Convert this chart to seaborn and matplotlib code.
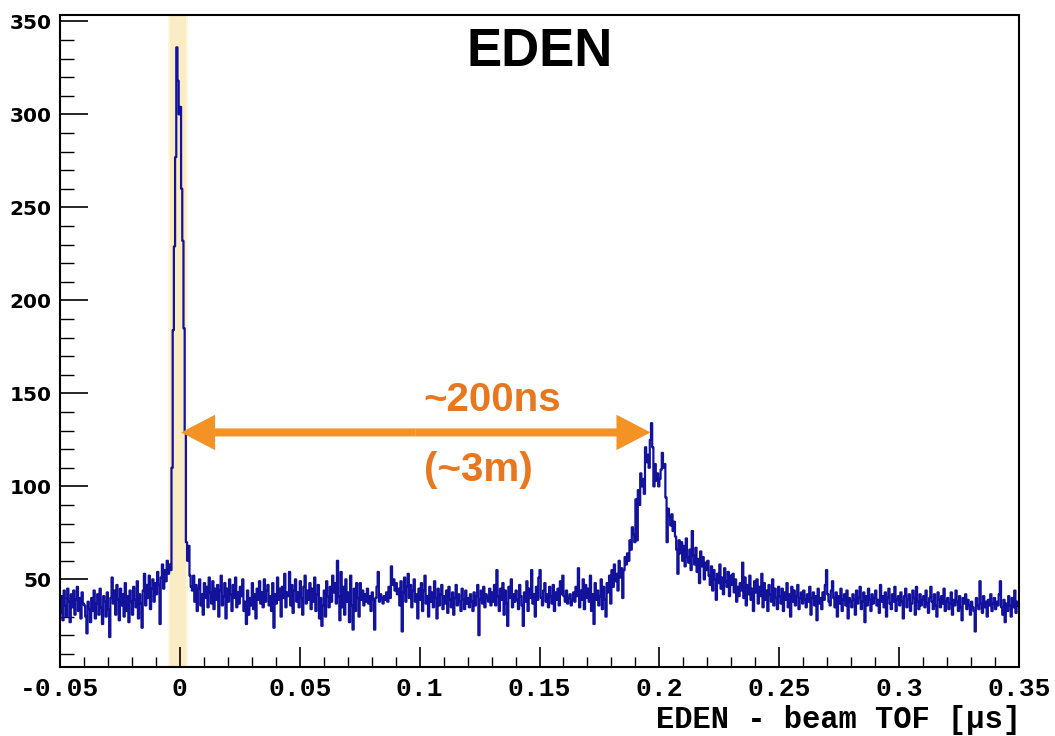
import numpy as np
import pandas as pd
import matplotlib
matplotlib.use("Agg")
import matplotlib.pyplot as plt
import seaborn as sns
from matplotlib.ticker import FixedLocator, FixedFormatter, MultipleLocator

# ---- data: counts per 0.5 ns bin ----
counts_pre = [  # -50 ns .. -5 ns
    32, 41, 28, 44, 36, 30, 45, 38, 27, 42, 35, 44, 31, 39, 46, 33, 40, 29, 43, 37,
    36, 30, 21, 38, 34, 27, 40, 33, 44, 29, 37, 42, 31, 45, 35, 26, 41, 38, 30, 43,
    34, 19, 40, 51, 37, 44, 31, 47, 39, 28, 45, 36, 42, 30, 48, 33, 41, 27, 44, 38,
    31, 46, 39, 35, 49, 29, 42, 37, 24, 44, 53, 36, 47, 40, 52, 34, 45, 50, 38, 48,
    42, 54, 47, 26, 51, 58, 45, 55, 49, 60,
]
counts_gamma_peak = [  # -5 ns .. 5 ns
    53, 58, 55, 110, 184, 229, 277, 336, 318, 300,
    304, 260, 232, 185, 129, 70, 60, 68, 52, 46,
]
counts_mid_a = [  # 5 ns .. 100 ns
    44, 52, 38, 47, 33, 45, 50, 36, 42, 31, 48, 40, 46, 35, 51, 43, 37, 49, 34, 45,
    39, 47, 30, 44, 52, 36, 41, 48, 29, 45, 38, 50, 42, 33, 47, 40, 51, 35, 43, 37,
    46, 41, 50, 33, 38, 26, 44, 31, 40, 36, 48, 34, 42, 29, 45, 39, 49, 37, 43, 35,
    50, 38, 44, 47, 36, 41, 33, 48, 24, 42, 37, 51, 39, 45, 30, 46, 40, 53, 35, 43,
    41, 54, 36, 47, 32, 44, 50, 38, 43, 35, 49, 40, 31, 46, 52, 37, 44, 39, 48, 34,
    45, 38, 51, 33, 42, 47, 29, 40, 25, 36, 44, 30, 49, 41, 35, 46, 38, 52, 43, 48,
    37, 60, 41, 28, 54, 35, 46, 31, 50, 38, 43, 27, 52, 36, 23, 45, 33, 48, 40, 30,
    48, 39, 44, 36, 42, 38, 45, 37, 41, 33, 43, 39, 23, 40, 46, 54, 38, 42, 40, 37,
    41, 39, 43, 38, 46, 40, 57, 47, 50, 44, 48, 42, 45, 36, 49, 22, 43, 51, 38, 46,
    53, 40, 47, 35, 44, 50, 38, 42, 29, 45,
]
counts_mid_b = [  # 100 ns .. 175 ns
    39, 48, 33, 44, 52, 37, 41, 30, 46, 38, 43, 35, 49, 40, 29, 45, 36, 42, 47, 34,
    41, 37, 44, 32, 46, 39, 35, 43, 31, 40, 47, 36, 42, 38, 33, 45, 39, 34, 44, 37,
    40, 35, 42, 38, 33, 43, 36, 41, 47, 20, 39, 44, 37, 46, 35, 42, 40, 38, 45, 36,
    43, 38, 47, 36, 55, 41, 33, 45, 39, 48, 31, 44, 37, 25, 46, 40, 50, 35, 42, 38,
    44, 39, 34, 47, 41, 36, 25, 43, 38, 49, 33, 45, 40, 55, 37, 42, 30, 46, 39, 51,
    55, 40, 36, 44, 48, 38, 42, 35, 46, 41, 37, 47, 33, 43, 39, 45, 36, 49, 42, 52,
    41, 38, 44, 37, 40, 42, 36, 39, 43, 38, 46, 41, 56, 35, 44, 39, 50, 34, 47, 40,
    45, 38, 52, 33, 42, 26, 48, 39, 44, 36,
]
counts_neutron_peak = [  # 175 ns .. 230 ns
    41, 50, 34, 46, 39, 30, 48, 43, 52, 37, 55, 46, 58, 49, 53, 44, 60, 51, 56, 40,
    55, 62, 58, 64, 60, 71, 66, 78, 74, 70,
    93, 71, 98, 90, 107, 100, 104, 96, 121, 113, 117, 110, 125, 134, 121, 100, 112, 103, 107, 100,
    104, 109, 118, 110, 112, 94, 70, 88, 84, 79, 85, 76, 81, 73, 66, 53, 71, 64, 70, 60,
    68, 57, 72, 62, 59, 66, 55, 76, 63, 58, 67, 54, 61, 48, 65, 57, 62, 50, 59, 55,
    60, 52, 47, 57, 44, 55, 50, 39, 53, 48, 58, 45, 51, 42, 56, 49, 46, 54, 41, 52,
]
counts_tail = [  # 230 ns .. 350 ns
    47, 53, 43, 50, 38, 46, 41, 48, 44, 59, 40, 51, 36, 47, 42, 52, 39, 45, 33, 49,
    43, 50, 37, 46, 41, 53, 35, 48, 39, 44, 33, 47, 42, 38, 50, 36, 45, 40, 34, 46,
    41, 37, 45, 33, 43, 39, 48, 35, 42, 30, 46, 38, 44, 36, 41, 47, 34, 40, 43, 37,
    44, 39, 35, 42, 38, 46, 31, 40, 43, 36, 41, 28, 45, 37, 40, 34, 43, 39, 47, 55,
    42, 38, 36, 44, 49, 40, 35, 43, 30, 41, 37, 45, 33, 39, 42, 36, 44, 29, 40, 38,
    35, 42, 39, 31, 44, 37, 40, 46, 34, 38, 43, 27, 41, 36, 45, 39, 33, 42, 37, 40,
    44, 36, 39, 32, 47, 38, 41, 35, 43, 30, 40, 45, 37, 34, 42, 38, 46, 33, 39, 41,
    36, 43, 38, 29, 41, 45, 35, 39, 42, 33, 37, 44, 40, 31, 46, 38, 34, 42, 36, 39,
    41, 35, 44, 37, 32, 40, 46, 38, 34, 42, 36, 30, 43, 39, 35, 41, 37, 45, 33, 38,
    40, 34, 37, 43, 31, 39, 36, 44, 38, 33, 41, 35, 28, 40, 37, 42, 34, 39, 36, 31,
    38, 35, 33, 22, 40, 36, 34, 49, 37, 32, 41, 35, 38, 30, 39, 36, 42, 33, 37, 40,
    34, 38, 36, 42, 49, 35, 31, 39, 27, 37, 33, 41, 36, 30, 40, 35, 44, 32, 38, 36,
]

x_range = (-0.05, 0.35)          # µs
xtick_values = [-0.05, 0, 0.05, 0.1, 0.15, 0.2, 0.25, 0.3, 0.35]
xtick_labels = ["-0.05", "0", "0.05", "0.1", "0.15", "0.2", "0.25", "0.3", "0.35"]
ytick_values = [50, 100, 150, 200, 250, 300, 350]
ytick_labels = ["50", "100", "150", "200", "250", "300", "350"]
title_text = "EDEN"
xlabel_text = "EDEN - beam TOF [µs]"
ann_top = "~200ns"
ann_bottom = "(~3m)"
arrow_from = 0.0005
arrow_to = 0.1963
arrow_level = 129

# ---- build table ----
counts = np.concatenate([counts_pre, counts_gamma_peak, counts_mid_a,
                         counts_mid_b, counts_neutron_peak, counts_tail]).astype(float)
n_bins = len(counts)
edges = np.linspace(x_range[0], x_range[1], n_bins + 1)
centers = 0.5 * (edges[:-1] + edges[1:])
df = pd.DataFrame({"tof": centers, "counts": counts})

sns.set_style("ticks")
plt.rcParams.update({"text.color": "black", "axes.labelcolor": "black",
                     "xtick.color": "black", "ytick.color": "black",
                     "axes.edgecolor": "black"})
fig = plt.figure(figsize=(10.55, 7.36), dpi=100)
ax = fig.add_axes([60 / 1055, 1 - 667 / 736, 959 / 1055, 652 / 736])

# highlighted prompt-gamma band
ax.axvspan(-0.0051, 0.0035, color="#FDF5DF", lw=0, zorder=0)
ax.axvspan(-0.0043, 0.0027, color="#FAECC3", lw=0, zorder=0)

sns.histplot(data=df, x="tof", weights="counts", bins=n_bins, binrange=x_range,
             element="step", fill=False, color="#12129C", linewidth=1.6, ax=ax)

ax.set_xlim(*x_range)
ax.set_ylim(2.9, 353.4)
ax.set_xlabel("")
ax.set_ylabel("")

ax.xaxis.set_major_locator(FixedLocator(xtick_values))
ax.xaxis.set_major_formatter(FixedFormatter(xtick_labels))
ax.xaxis.set_minor_locator(MultipleLocator(0.01))
ax.yaxis.set_major_locator(FixedLocator(ytick_values))
ax.yaxis.set_major_formatter(FixedFormatter(ytick_labels))
ax.yaxis.set_minor_locator(MultipleLocator(10))

ax.tick_params(axis="both", which="both", direction="in", top=False, right=False,
               color="black", labelcolor="black")
ax.tick_params(axis="x", which="major", length=14.5, width=1.2, pad=7)
ax.tick_params(axis="x", which="minor", length=7.5, width=1.0)
ax.tick_params(axis="y", which="major", length=20, width=1.2, pad=6)
ax.tick_params(axis="y", which="minor", length=10, width=1.0)

for lab in ax.get_xticklabels():
    lab.set_fontfamily("Liberation Mono")
    lab.set_fontweight("bold")
    lab.set_fontsize(19)
for lab in ax.get_yticklabels():
    lab.set_fontfamily("DejaVu Sans")
    lab.set_fontweight("bold")
    lab.set_fontsize(14.5)

for sp in ax.spines.values():
    sp.set_visible(True)
    sp.set_linewidth(1.5)
    sp.set_color("black")

fig.text(1021 / 1055, 1 - 720 / 736, xlabel_text, ha="right", va="center", color="black",
         fontfamily="Liberation Mono", fontweight="bold", fontsize=22)
fig.text(540 / 1055, 1 - 52 / 736, title_text, ha="center", va="center", color="black",
         fontfamily="Liberation Sans", fontweight="bold", fontsize=38)

# double arrow drawn as two filled arrows from the middle
mid = 0.5 * (arrow_from + arrow_to)
for end in (arrow_from, arrow_to):
    ax.annotate("", xy=(end, arrow_level), xytext=(mid, arrow_level),
                arrowprops=dict(arrowstyle="simple,head_length=24.5,head_width=25.5,tail_width=5.8",
                                mutation_scale=1, lw=0, color="#F39325",
                                shrinkA=0, shrinkB=0), zorder=5)

ax.text(0.1302, 146.4, ann_top, ha="center", va="center", color="#E8781F",
        fontfamily="Liberation Sans", fontweight="bold", fontsize=29)
ax.text(0.1243, 108.8, ann_bottom, ha="center", va="center", color="#E8781F",
        fontfamily="Liberation Sans", fontweight="bold", fontsize=29)

fig.savefig("out.png", dpi=100, facecolor="white")
